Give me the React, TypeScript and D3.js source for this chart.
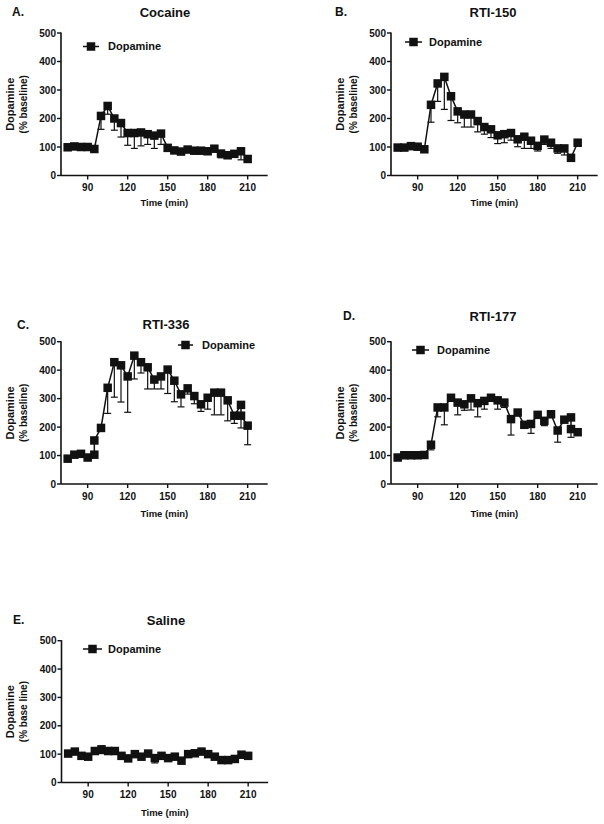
import React from "react";
import * as d3 from "d3";

// ---- data ----
const timesStd = [75, 80, 85, 90, 95, 100, 105, 110, 115, 120, 125, 130, 135, 140, 145, 150, 155, 160, 165, 170, 175, 180, 185, 190, 195, 200, 205, 210];
const timesC = [75, 80, 85, 90, 95, 95, 100, 105, 110, 115, 120, 125, 130, 135, 140, 145, 150, 155, 160, 165, 170, 175, 180, 185, 190, 195, 200, 205, 205, 210];
const timesD = [75, 80, 85, 90, 95, 100, 105, 110, 115, 120, 125, 130, 135, 140, 145, 150, 155, 160, 165, 170, 175, 180, 185, 190, 195, 200, 205, 205, 210];

const cocaineValues = [99, 102, 100, 100, 93, 209, 244, 200, 184, 149, 149, 151, 145, 140, 147, 97, 88, 84, 91, 87, 87, 85, 94, 77, 71, 76, 85, 58];
const cocaineSem = [3, 3, 3, 3, 4, 47, 29, 41, 49, 43, 54, 47, 36, 45, 38, 8, 4, 4, 4, 4, 4, 4, 4, 15, 5, 5, 30, 5];

const rti150Values = [98, 98, 103, 101, 92, 248, 323, 346, 278, 225, 214, 214, 191, 170, 162, 141, 145, 149, 127, 136, 122, 104, 126, 115, 95, 95, 62, 115];
const rti150Sem = [3, 3, 3, 3, 4, 61, 63, 114, 85, 40, 44, 44, 38, 25, 29, 29, 30, 25, 26, 41, 27, 18, 17, 20, 17, 23, 12, 5];

const rti336Values = [89, 103, 106, 93, 103, 153, 197, 338, 428, 417, 378, 451, 428, 410, 367, 378, 402, 363, 315, 336, 309, 280, 303, 321, 321, 294, 240, 278, 240, 205];
const rti336Sem = [3, 3, 3, 4, 4, 5, 5, 90, 123, 129, 126, 82, 38, 76, 33, 44, 84, 74, 44, 20, 27, 25, 40, 78, 78, 72, 27, 6, 43, 67];

const rti177Values = [93, 101, 101, 101, 102, 138, 269, 269, 303, 286, 280, 301, 284, 292, 303, 294, 286, 228, 251, 208, 211, 243, 222, 245, 188, 226, 234, 193, 182];
const rti177Sem = [5, 5, 5, 5, 5, 18, 33, 61, 8, 43, 21, 41, 48, 29, 10, 31, 17, 56, 8, 8, 33, 8, 17, 8, 41, 8, 8, 29, 6];

const salineValues = [102, 109, 94, 91, 111, 117, 111, 111, 94, 85, 100, 91, 102, 86, 94, 86, 91, 77, 100, 103, 109, 100, 91, 79, 79, 83, 98, 94];
const salineSem = [5, 5, 5, 5, 5, 15, 5, 5, 5, 5, 5, 5, 5, 17, 5, 5, 5, 10, 5, 5, 5, 5, 5, 5, 5, 5, 5, 5];

const yTicks = [0, 100, 200, 300, 400, 500];
const xTicks = [90, 120, 150, 180, 210];
const xDomain = [70, 225];
const yDomain = [0, 500];
const seriesName = "Dopamine";

const FONT = "'Liberation Sans', Arial, sans-serif";
const INK = "#111";

type PanelCfg = {
  letter: string; title: string; times: number[]; values: number[]; sems: number[];
  x0: number; yTop: number; yBot: number;
  letterX: number; letterY: number; titleX: number; titleY: number;
  legend: { x1: number; x2: number; y: number; tx: number };
  ylabel2: string; timeOff: number;
};

const panels: PanelCfg[] = [
  { letter: "A.", title: "Cocaine", times: timesStd, values: cocaineValues, sems: cocaineSem,
    x0: 61, yTop: 33, yBot: 175.5, letterX: 12, letterY: 16, titleX: 165, titleY: 17,
    legend: { x1: 83, x2: 99, y: 46.5, tx: 108 }, ylabel2: "(% baseline)", timeOff: 27 },
  { letter: "B.", title: "RTI-150", times: timesStd, values: rti150Values, sems: rti150Sem,
    x0: 391, yTop: 33, yBot: 175.5, letterX: 335, letterY: 16, titleX: 493, titleY: 17,
    legend: { x1: 405, x2: 422, y: 42, tx: 429 }, ylabel2: "(% baseline)", timeOff: 27 },
  { letter: "C.", title: "RTI-336", times: timesC, values: rti336Values, sems: rti336Sem,
    x0: 61, yTop: 341.7, yBot: 484, letterX: 17, letterY: 329, titleX: 166, titleY: 329,
    legend: { x1: 178, x2: 193, y: 345, tx: 202 }, ylabel2: "(% baseline)", timeOff: 30 },
  { letter: "D.", title: "RTI-177", times: timesD, values: rti177Values, sems: rti177Sem,
    x0: 391, yTop: 341.7, yBot: 484, letterX: 343, letterY: 320, titleX: 493, titleY: 321,
    legend: { x1: 412, x2: 429, y: 350, tx: 437 }, ylabel2: "(% baseline)", timeOff: 30 },
  { letter: "E.", title: "Saline", times: timesStd, values: salineValues, sems: salineSem,
    x0: 61.5, yTop: 640.7, yBot: 782.5, letterX: 13, letterY: 624, titleX: 166, titleY: 625,
    legend: { x1: 83, x2: 102, y: 649, tx: 108 }, ylabel2: "(% base line)", timeOff: 30 },
];

const MS = 8.5; // marker size

function Panel({ p }: { p: PanelCfg }) {
  const x = d3.scaleLinear().domain(xDomain).range([p.x0, p.x0 + (xDomain[1] - xDomain[0]) * 40 / 30]);
  const y = d3.scaleLinear().domain(yDomain).range([p.yBot, p.yTop]);
  const pts: [number, number][] = p.times.map((t, i) => [x(t), y(p.values[i])]);
  const line = d3.line()(pts) || "";
  const xr = x(xDomain[1]);
  const midY = (p.yTop + p.yBot) / 2;
  const midX = (p.x0 + xr) / 2;
  return (
    <g>
      <text x={p.letterX} y={p.letterY} fontSize={12} fontWeight="bold" fill={INK}>{p.letter}</text>
      <text x={p.titleX} y={p.titleY} fontSize={13} fontWeight="bold" textAnchor="middle" fill={INK}>{p.title}</text>
      {/* axes */}
      <line x1={p.x0} x2={p.x0} y1={p.yBot} y2={p.yTop - 0.5} stroke={INK} strokeWidth={1.6} />
      <line x1={p.x0} x2={xr} y1={p.yBot} y2={p.yBot} stroke={INK} strokeWidth={1.6} />
      {yTicks.map((t) => (
        <g key={"y" + t}>
          <line x1={p.x0 - 4} x2={p.x0} y1={y(t)} y2={y(t)} stroke={INK} strokeWidth={1.4} />
          <text x={p.x0 - 5} y={y(t)} dy="0.35em" fontSize={10} fontWeight="bold" textAnchor="end" fill={INK}>{t}</text>
        </g>
      ))}
      {xTicks.map((t) => (
        <g key={"x" + t}>
          <line x1={x(t)} x2={x(t)} y1={p.yBot} y2={p.yBot + 4} stroke={INK} strokeWidth={1.4} />
          <text x={x(t)} y={p.yBot + 12} dy="0.35em" fontSize={10} fontWeight="bold" textAnchor="middle" fill={INK}>{t}</text>
        </g>
      ))}
      <text x={midX} y={p.yBot + p.timeOff} dy="0.35em" fontSize={9.5} fontWeight="bold" textAnchor="middle" fill={INK}>Time (min)</text>
      <text transform={`translate(${p.x0 - 51},${midY}) rotate(-90)`} dy="0.35em" fontSize={11} fontWeight="bold" textAnchor="middle" fill={INK}>Dopamine</text>
      <text transform={`translate(${p.x0 - 38},${midY}) rotate(-90)`} dy="0.35em" fontSize={10} fontWeight="bold" textAnchor="middle" fill={INK}>{p.ylabel2}</text>
      {/* error bars */}
      {p.times.map((t, i) => {
        const cx = x(t);
        const lo = y(p.values[i] - p.sems[i]);
        const cy = y(p.values[i]);
        return (
          <g key={"e" + i}>
            <line x1={cx} x2={cx} y1={cy} y2={lo} stroke={INK} strokeWidth={1.2} />
            <line x1={cx - 3.5} x2={cx + 3.5} y1={lo} y2={lo} stroke={INK} strokeWidth={1.2} />
          </g>
        );
      })}
      <path d={line} fill="none" stroke={INK} strokeWidth={1.5} />
      {pts.map(([px, py], i) => (
        <rect key={"m" + i} x={px - MS / 2} y={py - MS / 2} width={MS} height={MS} fill={INK} />
      ))}
      {/* legend */}
      <line x1={p.legend.x1} x2={p.legend.x2} y1={p.legend.y} y2={p.legend.y} stroke={INK} strokeWidth={1.5} />
      <rect x={(p.legend.x1 + p.legend.x2) / 2 - MS / 2} y={p.legend.y - MS / 2} width={MS} height={MS} fill={INK} />
      <text x={p.legend.tx} y={p.legend.y} dy="0.35em" fontSize={11} fontWeight="bold" fill={INK}>{seriesName}</text>
    </g>
  );
}

export default function App() {
  return (
    <svg width={604} height={824} style={{ position: "absolute", left: 0, top: 0, background: "#fff" }} fontFamily={FONT}>
      <rect width={604} height={824} fill="#fff" />
      {panels.map((p) => <Panel key={p.letter} p={p} />)}
    </svg>
  );
}
